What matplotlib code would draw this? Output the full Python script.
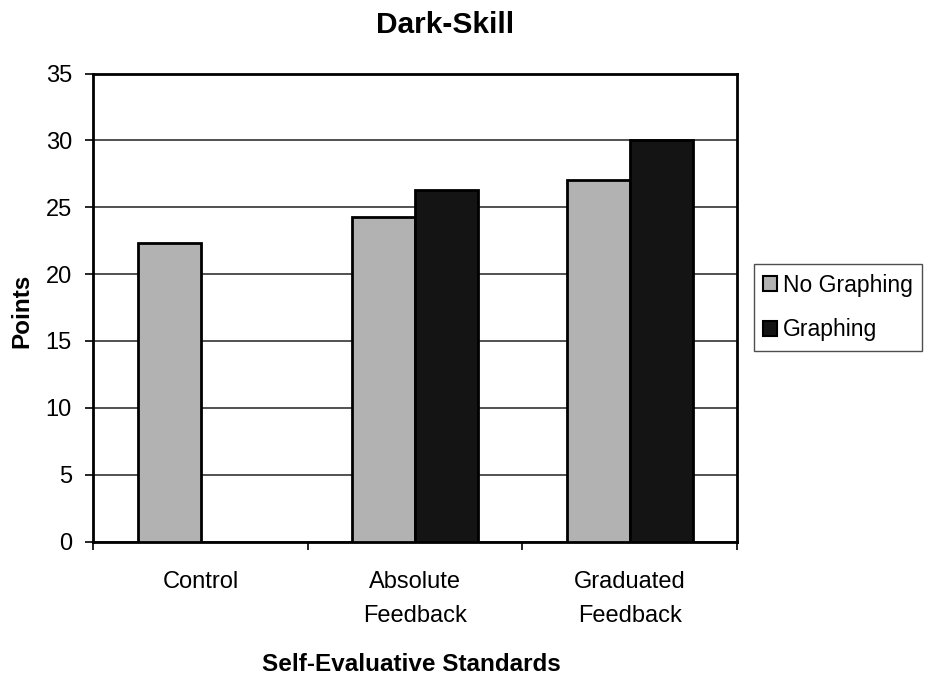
import matplotlib
matplotlib.use("Agg")
import matplotlib.pyplot as plt
import numpy as np
from matplotlib.patches import Patch

plt.rcParams['font.family'] = ['Liberation Sans', 'DejaVu Sans']

categories = ['Control', 'Absolute\nFeedback', 'Graduated\nFeedback']
no_graphing = [22.3, 24.25, 27.0]
graphing = [np.nan, 26.3, 30.0]
series_names = ['No Graphing', 'Graphing']
light = '#b2b2b3'
dark = '#141414'

W, H = 929, 676
fig = plt.figure(figsize=(W / 100, H / 100), dpi=100)
ax = fig.add_axes([93.5 / W, 1 - 541.5 / H, (737 - 93.5) / W, (541.5 - 73.5) / H])

x = np.arange(len(categories))
w = 0.294
ax.bar(x - w / 2, no_graphing, w, color=light, edgecolor='black', linewidth=2, zorder=3)
ax.bar(x + w / 2, graphing, w, color=dark, edgecolor='black', linewidth=2, zorder=3)

ax.set_xlim(-0.5, 2.5)
ax.set_ylim(0, 35)
ax.set_yticks(range(0, 36, 5))
ax.yaxis.grid(True, color='#333333', linewidth=1.2, zorder=0)
ax.set_axisbelow(True)

# category labels in the middle, tick marks on the boundaries
ax.set_xticks(x)
ax.set_xticklabels(categories, fontsize=17, linespacing=1.7)
ax.tick_params(axis='x', which='major', length=0, pad=21)
ax.set_xticks([-0.5, 0.5, 1.5, 2.5], minor=True)
ax.tick_params(axis='x', which='minor', length=6, width=1.2, direction='out')
ax.tick_params(axis='y', labelsize=17, length=6, width=1.2, direction='out', pad=9.5)

for s in ax.spines.values():
    s.set_linewidth(2)
    s.set_color('black')

fig.text(445 / W, 1 - 33 / H, 'Dark-Skill', ha='center', va='baseline',
         fontsize=21.5, fontweight='bold')
fig.text(22 / W, 1 - 311 / H, 'Points', ha='center', va='center',
         rotation=90, fontsize=17.5, fontweight='bold')
fig.text(411 / W, 1 - 671 / H, 'Self-Evaluative Standards', ha='center',
         va='baseline', fontsize=17.5, fontweight='bold')

handles = [Patch(facecolor=light, edgecolor='black', linewidth=1.5),
           Patch(facecolor=dark, edgecolor='black', linewidth=1.5)]
leg = fig.legend(handles, series_names, loc='center', bbox_to_anchor=(838 / W, 1 - 307.5 / H),
                 fontsize=16.5, frameon=True, fancybox=False, handlelength=0.6, handleheight=0.6,
                 handletextpad=0.25, borderpad=0.4, labelspacing=0.95, borderaxespad=0)
leg.get_frame().set_edgecolor('#222222')
leg.get_frame().set_linewidth(1)

fig.savefig('out.png', dpi=100)
